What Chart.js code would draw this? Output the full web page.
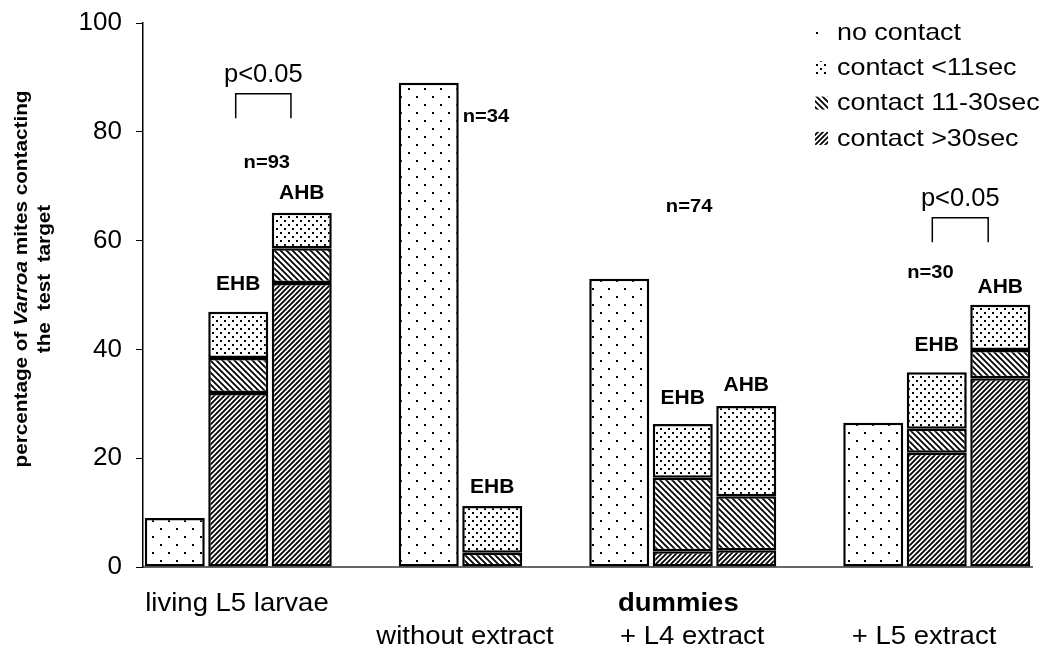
<!DOCTYPE html>
<html>
<head>
<meta charset="utf-8">
<script src="https://cdn.jsdelivr.net/npm/chart.js@4.4.1/dist/chart.umd.min.js"></script>
<style>
  html, body { margin: 0; padding: 0; background: #fff; }
  #wrap { width: 1048px; height: 649px; }
</style>
</head>
<body>
<div id="wrap"><canvas id="mites"></canvas></div>
<script>
// slots along the x axis (empty strings are the gaps between groups)
var categories = ['larvae', 'larvae EHB', 'larvae AHB', '',
                  'no extract', 'no extract EHB', '',
                  'L4 extract', 'L4 extract EHB', 'L4 extract AHB', '',
                  'L5 extract', 'L5 extract EHB', 'L5 extract AHB'];

// percentage of mites per contact class
var noContact    = [9,    null, null, null, 89,   null, null, 53,   null, null, null, 26.5, null, null];
var contactShort = [null, 8.5,  6.5,  null, null, 8.6,  null, null, 9.9,  16.6, null, null, 10.4, 8.3];
var contactMid   = [null, 6.4,  6.4,  null, null, 2.6,  null, null, 13.5, 9.9,  null, null, 4.4,  5.2];
var contactLong  = [null, 32,   52.2, null, null, null, null, null, 2.9,  3.1,  null, null, 21,   34.7];

var yTicks = [0, 20, 40, 60, 80, 100];

var seriesNames = ['no contact', 'contact <11sec', 'contact 11-30sec', 'contact >30sec'];

// annotations (x in slot index units, y in percent)
var strainLabels = [[1, 'EHB', 28], [2, 'AHB', 20], [5, 'EHB', 19], [8, 'EHB', 26],
                    [9, 'AHB', 21], [12, 'EHB', 27], [13, 'AHB', 18]];
var sampleSizes = [['n=93', 1.45, 74.3], ['n=34', 4.9, 82.7], ['n=74', 8.1, 66.2], ['n=30', 11.9, 54]];
var brackets = [[0.96, 1.83, 87, 82.5], [11.93, 12.81, 64.2, 59.7]];
var groupLabels = [['living L5 larvae', 0.98, 0, false], ['dummies', 7.93, 0, true],
                   ['without extract', 4.57, 1, false], ['+ L4 extract', 8.15, 1, false],
                   ['+ L5 extract', 11.8, 1, false]];

var FONT = '"Liberation Sans", Arial, sans-serif';

function tile(size, draw) {
    var c = document.createElement('canvas');
    c.width = size; c.height = size;
    var g = c.getContext('2d');
    g.fillStyle = '#fff';
    g.fillRect(0, 0, size, size);
    g.fillStyle = '#000';
    g.strokeStyle = '#000';
    draw(g, size);
    return g.createPattern(c, 'repeat');
}

var sparseDots = tile(16, function (g) {
    g.fillRect(0, 0, 2, 2);
    g.fillRect(8, 8, 2, 2);
});
var denseDots = tile(8, function (g) {
    g.fillRect(0, 0, 2, 2);
    g.fillRect(4, 4, 2, 2);
});
var backHatch = tile(6, function (g, s) {
    g.lineWidth = 1.8;
    g.beginPath();
    g.moveTo(-1, -1); g.lineTo(s + 1, s + 1);
    g.moveTo(-1, s - 1); g.lineTo(1, s + 1);
    g.moveTo(s - 1, -1); g.lineTo(s + 1, 1);
    g.stroke();
});
var fwdHatch = tile(5, function (g, s) {
    g.lineWidth = 1.8;
    g.beginPath();
    g.moveTo(-1, s + 1); g.lineTo(s + 1, -1);
    g.moveTo(-1, 1); g.lineTo(1, -1);
    g.moveTo(s - 1, s + 1); g.lineTo(s + 1, s - 1);
    g.stroke();
});

function text(ctx, str, x, y, font, sx, align) {
    ctx.save();
    ctx.font = font;
    ctx.translate(x, y);
    ctx.scale(sx, 1);
    ctx.textAlign = align || 'center';
    ctx.textBaseline = 'middle';
    ctx.fillStyle = '#000';
    ctx.fillText(str, 0, 0);
    ctx.restore();
}

function barTotal(i) {
    return (contactLong[i] || 0) + (contactMid[i] || 0) + (contactShort[i] || 0) + (noContact[i] || 0);
}

var extras = {
    id: 'extras',
    afterDraw: function (chart) {
        var ctx = chart.ctx;
        var xs = chart.scales.x, ys = chart.scales.y;

        strainLabels.forEach(function (s) {
            text(ctx, s[1], xs.getPixelForValue(s[0]), ys.getPixelForValue(barTotal(s[0])) - s[2],
                 'bold 21px ' + FONT, 1);
        });
        sampleSizes.forEach(function (s) {
            text(ctx, s[0], xs.getPixelForValue(s[1]), ys.getPixelForValue(s[2]), 'bold 18px ' + FONT, 1.12);
        });
        brackets.forEach(function (b) {
            var x0 = xs.getPixelForValue(b[0]), x1 = xs.getPixelForValue(b[1]);
            var yt = ys.getPixelForValue(b[2]), yb = ys.getPixelForValue(b[3]);
            ctx.save();
            ctx.strokeStyle = '#000';
            ctx.lineWidth = 1.5;
            ctx.beginPath();
            ctx.moveTo(x0, yb); ctx.lineTo(x0, yt); ctx.lineTo(x1, yt); ctx.lineTo(x1, yb);
            ctx.stroke();
            ctx.restore();
            text(ctx, 'p<0.05', (x0 + x1) / 2, yt - 19, '25px ' + FONT, 1.02);
        });
        groupLabels.forEach(function (g) {
            text(ctx, g[0], xs.getPixelForValue(g[1]), ys.bottom + 37 + g[2] * 33,
                 (g[3] ? 'bold ' : '') + '25px ' + FONT, 1.1);
        });

        // y axis title with italic genus name
        ctx.save();
        ctx.translate(22, 279);
        ctx.rotate(-Math.PI / 2);
        ctx.scale(1.12, 1);
        ctx.textBaseline = 'middle';
        ctx.textAlign = 'left';
        ctx.fillStyle = '#000';
        var parts = [['percentage of ', 'bold 18.5px '], ['Varroa', 'italic bold 18.5px '], [' mites contacting', 'bold 18.5px ']];
        var total = 0;
        parts.forEach(function (p) { ctx.font = p[1] + FONT; total += ctx.measureText(p[0]).width; });
        var cx = -total / 2;
        parts.forEach(function (p) { ctx.font = p[1] + FONT; ctx.fillText(p[0], cx, 0); cx += ctx.measureText(p[0]).width; });
        ctx.textAlign = 'center';
        ctx.font = 'bold 18.5px ' + FONT;
        ctx.fillText('the  test  target', 0, 23);
        ctx.restore();

        // legend, top right
        var order = [3, 2, 1, 0];
        order.forEach(function (di, row) {
            var ds = chart.data.datasets[di];
            var y = 33 + row * 35.3;
            var lx = chart.chartArea.right - 217;
            ctx.save();
            ctx.fillStyle = ds.backgroundColor;
            ctx.fillRect(lx, y - 7, 13, 13);
            ctx.restore();
            text(ctx, ds.label, lx + 22, y, '24px ' + FONT, 1.12, 'left');
        });
    }
};

var common = { borderColor: '#000', borderWidth: 2.5, borderSkipped: false,
               barPercentage: 0.945, categoryPercentage: 1 };

new Chart(document.getElementById('mites'), {
    type: 'bar',
    data: {
        labels: categories,
        datasets: [
            Object.assign({ label: seriesNames[3], data: contactLong,  backgroundColor: fwdHatch }, common),
            Object.assign({ label: seriesNames[2], data: contactMid,   backgroundColor: backHatch }, common),
            Object.assign({ label: seriesNames[1], data: contactShort, backgroundColor: denseDots }, common),
            Object.assign({ label: seriesNames[0], data: noContact,    backgroundColor: sparseDots }, common)
        ]
    },
    options: {
        responsive: true,
        maintainAspectRatio: false,
        animation: false,
        layout: { padding: { left: 0, right: 16, top: 23, bottom: 0 } },
        plugins: { legend: { display: false }, tooltip: { enabled: false } },
        scales: {
            x: {
                stacked: true,
                grid: { display: false },
                border: { display: true, color: '#666', width: 2 },
                ticks: { display: false },
                afterFit: function (s) { s.height = 82; }
            },
            y: {
                stacked: true,
                min: 0,
                max: 100,
                afterBuildTicks: function (s) { s.ticks = yTicks.map(function (v) { return { value: v }; }); },
                grid: { drawOnChartArea: false, drawTicks: true, tickLength: 7, color: '#000', lineWidth: 1 },
                border: { display: true, color: '#000', width: 1.5 },
                ticks: { color: '#000', padding: 14, font: { family: FONT, size: 26 } },
                afterFit: function (s) { s.width = 143; s.paddingTop = 0; s.paddingBottom = 0; }
            }
        }
    },
    plugins: [extras]
});
</script>
</body>
</html>
